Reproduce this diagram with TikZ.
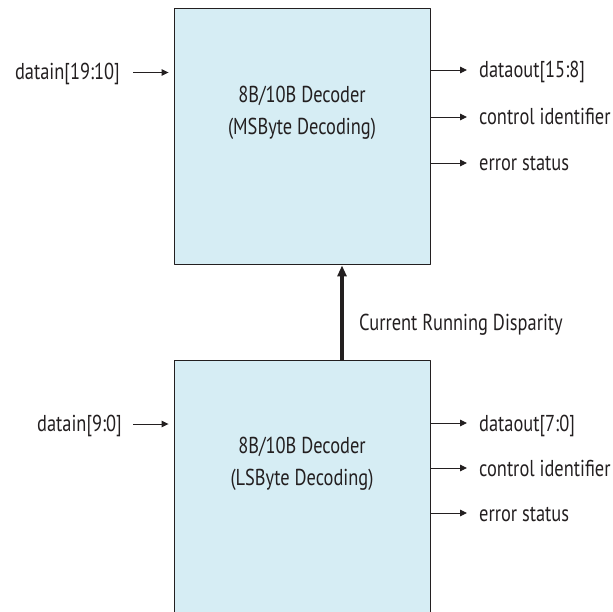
\documentclass[tikz,border=0pt]{standalone}
\usepackage{fontspec}
\setmainfont{PT Sans}[FakeStretch=0.8]
\usetikzlibrary{arrows.meta,positioning}
\definecolor{boxblue}{RGB}{214,237,244}
\definecolor{ink}{RGB}{35,31,32}
\begin{document}
\begin{tikzpicture}[x=1pt,y=-1pt,line join=round,>={Triangle[length=7pt,width=6.5pt]},font=\fontsize{23}{32}\selectfont]
		\tikzset{every node/.style={inner sep=0pt,text=ink}}
		\tikzset{decbox/.style={draw=ink,fill=boxblue,line width=0.9pt,minimum width=256pt,minimum height=256pt}}
		\tikzset{sig/.style={draw=ink,line width=0.9pt,->}}
		\useasboundingbox (0,0) rectangle (613,612);
		\clip (0,0) rectangle (613,612);
		% the two decoder blocks
		\node[decbox] (msb) at (302,136) {};
		\node[decbox] (lsb) at (302,488) {};
		\node[align=center,anchor=base] (msbtxt) at (302,135) {8B/10B Decoder\\(MSByte Decoding)};
		\node[align=center,anchor=base] (lsbtxt) at (302,485) {8B/10B Decoder\\(LSByte Decoding)};
		% inputs
		\node[anchor=base east] (din1) at (120,80) {datain[19:10]};
		\node[anchor=base east] (din0) at (122,431.5) {datain[9:0]};
		\draw[sig,shorten <=13pt,shorten >=5pt] ([yshift=7.5pt]din1.base east) -- ([yshift=7.5pt]din1.base east -| msb.west);
		\draw[sig,shorten <=11pt,shorten >=5pt] ([yshift=7.5pt]din0.base east) -- ([yshift=7.5pt]din0.base east -| lsb.west);
		% outputs
		\foreach \yb/\lab [count=\i] in {78/{dataout[15:8]},125/{control identifier},171/{error status}}
		{
			\node[anchor=base west] (mo\i) at (479,\yb) {\lab};
			\coordinate (mt\i) at (467,\yb-8);
			\draw[sig] (msb.east |- mt\i) -- (mt\i);
		}
		\foreach \yb/\lab [count=\i] in {431/{dataout[7:0]},476/{control identifier},521/{error status}}
		{
			\node[anchor=base west] (lo\i) at (479,\yb) {\lab};
			\coordinate (lt\i) at (467,\yb-8);
			\draw[sig] (lsb.east |- lt\i) -- (lt\i);
		}
		% running disparity
		\draw[draw=ink,line width=3.2pt,-{Triangle[length=11pt,width=9pt]}] ([xshift=40pt]lsb.north) -- ([xshift=40pt,yshift=-1pt]msb.south);
		\node[anchor=base west] (crd) at (359,330.7) {Current Running Disparity};
	\end{tikzpicture}
\end{document}
